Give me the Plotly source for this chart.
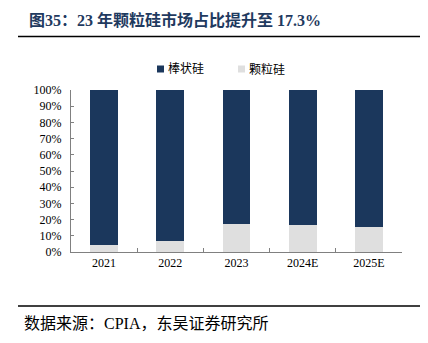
import plotly.graph_objects as go

# Market share of polysilicon by product form (%)
years = ["2021", "2022", "2023", "2024E", "2025E"]
granular = [4.1, 7.0, 17.3, 16.5, 15.3]
rod = [95.9, 93.0, 82.7, 83.5, 84.7]
y_ticks = [0, 10, 20, 30, 40, 50, 60, 70, 80, 90, 100]
y_tick_text = [f"{v}%" for v in y_ticks]

NAVY = "#1B375C"
LIGHT = "#DFDFDF"
SERIF = "Liberation Serif, Noto Sans CJK SC, serif"

fig = go.Figure()
fig.add_trace(go.Bar(x=years, y=granular, name="颗粒硅", marker_color=LIGHT,
                     marker_line_width=0, showlegend=False))
fig.add_trace(go.Bar(x=years, y=rod, name="棒状硅", marker_color=NAVY,
                     marker_line_width=0, showlegend=False))

W, H = 428, 343
L, R, T, B = 71, 26, 90, 91
PW, PH = W - L - R, H - T - B


def px_x(x):
    return (x - L) / PW


def px_y(y):
    return (H - B - y) / PH


fig.update_layout(
    width=W, height=H,
    barmode="stack", bargap=0.58,
    margin=dict(l=L, r=R, t=T, b=B, autoexpand=False),
    paper_bgcolor="white", plot_bgcolor="white",
    font=dict(family=SERIF, size=12, color="#000000"),
    xaxis=dict(showline=True, linecolor="#808080", linewidth=1,
               ticks="inside", ticklen=4, tickcolor="#808080",
               tickson="boundaries", showgrid=False,
               tickfont=dict(size=12, family=SERIF)),
    yaxis=dict(range=[0, 100], tickvals=y_ticks, ticktext=y_tick_text,
               showline=True, linecolor="#808080", linewidth=1,
               ticks="inside", ticklen=3, tickcolor="#808080",
               showgrid=False, zeroline=False,
               ticklabelstandoff=6,
               tickfont=dict(size=12, family=SERIF)),
)

# Legend: small colour key followed by the series name
legend_items = [(fig.data[1], 157), (fig.data[0], 238)]
for trace, x0 in legend_items:
    fig.add_shape(type="rect", xref="paper", yref="paper",
                  x0=px_x(x0), x1=px_x(x0 + 7),
                  y0=px_y(72.5), y1=px_y(65.5),
                  fillcolor=trace.marker.color, line_width=0)
    fig.add_annotation(text=trace.name, xref="paper", yref="paper",
                       x=px_x(x0 + 9), y=px_y(69), xanchor="left",
                       yanchor="middle", showarrow=False,
                       font=dict(size=12, color="#000000", family=SERIF))

# Title and source note
fig.add_annotation(text="<b>图35：23 年颗粒硅市场占比提升至 17.3%</b>",
                   xref="paper", yref="paper",
                   x=px_x(27), y=px_y(20),
                   xanchor="left", yanchor="middle", showarrow=False,
                   font=dict(size=16, color="#1F3A60", family=SERIF))
fig.add_annotation(text="数据来源：CPIA，东吴证券研究所",
                   xref="paper", yref="paper",
                   x=px_x(22), y=px_y(323),
                   xanchor="left", yanchor="middle", showarrow=False,
                   font=dict(size=16, color="#000000", family=SERIF))

# Rules under the title and above the source note
for ypx in (36.5, 306):
    fig.add_shape(type="line", xref="paper", yref="paper",
                  x0=px_x(18), x1=px_x(420),
                  y0=px_y(ypx), y1=px_y(ypx),
                  line=dict(color="#000000", width=1.5))

fig.write_html("out.html")
